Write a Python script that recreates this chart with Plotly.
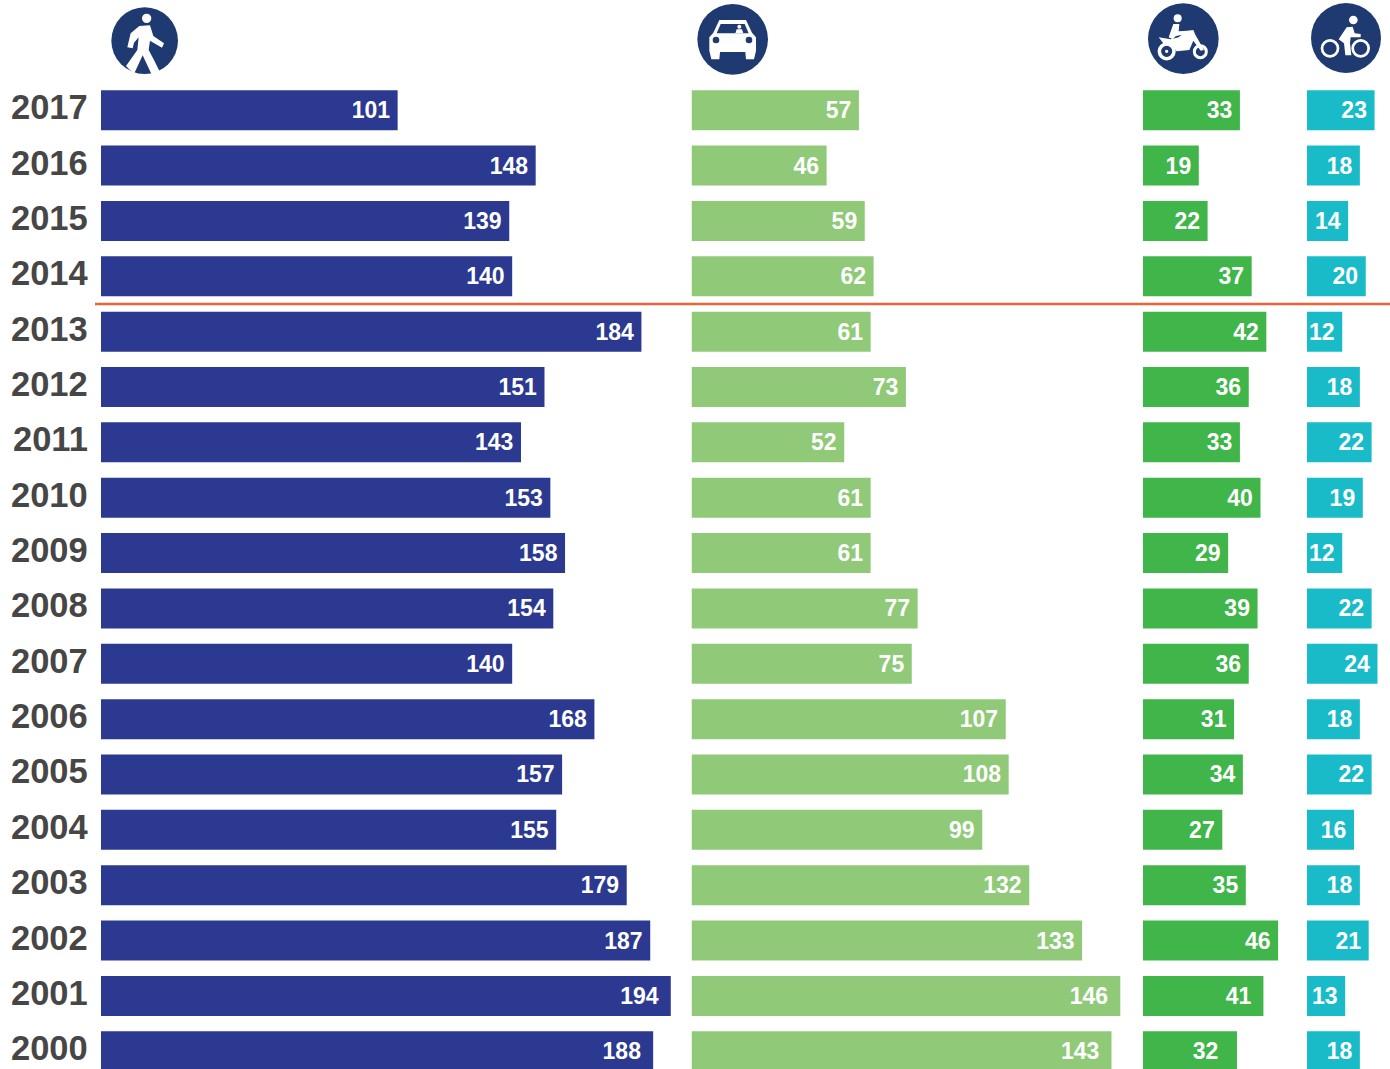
import plotly.graph_objects as go

W, H = 1390, 1069

years = [str(y) for y in range(2017, 1999, -1)]

pedestrians = [101, 148, 139, 140, 184, 151, 143, 153, 158, 154, 140, 168, 157, 155, 179, 187, 194, 188]
# the 2003 car bar is drawn shorter than its label says in the original, so lengths and labels are separate
cars = [57, 46, 59, 62, 61, 73, 52, 61, 61, 77, 75, 107, 108, 99, 115, 133, 146, 143]
car_labels = [57, 46, 59, 62, 61, 73, 52, 61, 61, 77, 75, 107, 108, 99, 132, 133, 146, 143]
motorcycles = [33, 19, 22, 37, 42, 36, 33, 40, 29, 39, 36, 31, 34, 27, 35, 46, 41, 32]
bicycles = [23, 18, 14, 20, 12, 18, 22, 19, 12, 22, 24, 18, 22, 16, 18, 21, 13, 18]

NAVY = "#1f3a70"
colors = ["#2b3990", "#90ca78", "#3fb54a", "#1abbc9"]
panels = [(101, 680), (691.5, 1135), (1143, 1300), (1307, 1390)]
PX_PER_UNIT = 2.937


def fx(x):
    return x / W


def fy(y):
    return 1 - y / H


# icons are traced in zoom-crop coordinates (3x), origin at ox, oy
def poly(points, ox, oy, color="white"):
    d = ""
    for i, (x, y) in enumerate(points):
        d += ("M" if i == 0 else "L") + f"{fx(ox + x / 3):.5f},{fy(oy + y / 3):.5f} "
    return dict(type="path", xref="paper", yref="paper", path=d + "Z", fillcolor=color, line=dict(width=0))


def disc(cx, cy, r, ox, oy, color="white", ring=0):
    x, y, r = ox + cx / 3, oy + cy / 3, r / 3
    return dict(type="circle", xref="paper", yref="paper",
                x0=fx(x - r), x1=fx(x + r), y0=fy(y + r), y1=fy(y - r),
                fillcolor=color if not ring else "rgba(0,0,0,0)",
                line=dict(width=ring, color=color))


icons = []

# pedestrian
ox, oy = 90, 0
icons += [
    disc(164, 122, 100, ox, oy, NAVY),
    disc(170, 55, 14, ox, oy),
    poly([(148, 78), (180, 76), (190, 108), (222, 130), (216, 143), (180, 122), (176, 150), (192, 180),
          (208, 212), (186, 226), (158, 166), (132, 222), (108, 198), (142, 150), (146, 112), (132, 128),
          (128, 145), (112, 142), (122, 100)], ox, oy),
]

# car
ox, oy = 680, 0
icons += [
    disc(158, 118, 106, ox, oy, NAVY),
    poly([(118, 60), (198, 60), (216, 98), (228, 112), (228, 152), (222, 178), (198, 178), (196, 156),
          (120, 156), (118, 178), (94, 178), (88, 152), (88, 112), (100, 98)], ox, oy),
    poly([(122, 72), (194, 72), (206, 100), (110, 100)], ox, oy, NAVY),
    disc(178, 80, 6, ox, oy),
    poly([(166, 100), (170, 88), (186, 88), (190, 100)], ox, oy),
    disc(108, 120, 10, ox, oy, NAVY),
    disc(207, 120, 10, ox, oy, NAVY),
]

# motorcycle
ox, oy = 1130, 0
icons += [
    disc(160, 116, 106, ox, oy, NAVY),
    disc(143, 55, 12, ox, oy),
    poly([(130, 72), (148, 72), (146, 94), (172, 92), (172, 102), (138, 108), (128, 118), (116, 112)], ox, oy),
    poly([(86, 112), (122, 118), (146, 112), (172, 92), (190, 90), (196, 104), (222, 150), (212, 152),
          (190, 122), (178, 150), (140, 154), (124, 136), (100, 130)], ox, oy),
    disc(110, 154, 22, ox, oy, ring=3.5),
    disc(211, 155, 18, ox, oy, ring=3),
    disc(110, 154, 5, ox, oy),
]

# bicycle
ox, oy = 1130, 0
icons += [
    disc(648, 114, 105, ox, oy, NAVY),
    disc(670, 60, 13, ox, oy),
    poly([(650, 82), (668, 80), (674, 100), (692, 102), (692, 112), (662, 112), (660, 128), (664, 166),
          (646, 166), (642, 130), (626, 118)], ox, oy),
    disc(600, 145, 24, ox, oy, ring=2.7),
    disc(692, 145, 24, ox, oy, ring=2.7),
]

series = [
    (pedestrians, pedestrians),
    (cars, car_labels),
    (motorcycles, motorcycles),
    (bicycles, bicycles),
]


def label_text(series_index, row, value):
    # labels in the last two rows sit further from the bar end in the original
    pad = "\u2009"
    if row >= 16 and series_index < 3:
        pad += "\u2009"
    if row == 17 and series_index == 2:
        pad += "\u00a0"
    return f"{value}{pad}"


fig = go.Figure()
for i, (values, labels) in enumerate(series):
    suffix = "" if i == 0 else str(i + 1)
    fig.add_trace(go.Bar(
        x=values, y=years, orientation="h",
        xaxis="x" + suffix, yaxis="y",
        marker=dict(color=colors[i], line=dict(width=0)),
        text=[label_text(i, row, v) for row, v in enumerate(labels)],
        textposition="inside", insidetextanchor="end", textangle=0,
        constraintext="none", cliponaxis=True,
        insidetextfont=dict(family="Liberation Sans", size=23, color="white", weight="bold"),
        hoverinfo="skip",
    ))
    left, right = panels[i]
    fig.layout["xaxis" + suffix] = dict(
        domain=[fx(left), fx(right)],
        range=[0, (right - left) / PX_PER_UNIT],
        anchor="y", visible=False, fixedrange=True,
    )

# row pitch 55.35 px, first row centred just past y=110, last near y=1051
pitch = 941 / 17
fig.update_layout(
    width=W, height=H,
    margin=dict(l=0, r=0, t=0, b=0),
    paper_bgcolor="white", plot_bgcolor="white",
    showlegend=False,
    bargap=1 - 40 / pitch,
    yaxis=dict(
        type="category", categoryorder="array", categoryarray=years[::-1],
        range=[-17.75 / pitch, 17 + 110.25 / pitch],
        anchor="x", side="left", showgrid=False, zeroline=False, showline=False,
        ticks="", showticklabels=False, automargin=False,
    ),
    shapes=[
        dict(type="line", xref="paper", yref="y", x0=fx(95), x1=1, y0=13.5, y1=13.5,
             line=dict(color="#ef6238", width=2.5)),
    ] + icons,
    # year labels sit a few px above the bar centres, so annotations rather than ticks
    # (annotation y on a category axis is the category's index)
    annotations=[
        dict(text=year, x=fx(89.5), xref="paper", y=17 - i, yref="y", xanchor="right", yanchor="middle",
             yshift=3, showarrow=False,
             font=dict(family="Liberation Sans", size=34.5, color="#464646", weight="bold"))
        for i, year in enumerate(years)
    ],
)

fig.write_html("out.html", config=dict(displayModeBar=False),
               post_script="document.body.style.margin='0';document.body.style.overflow='hidden';")
